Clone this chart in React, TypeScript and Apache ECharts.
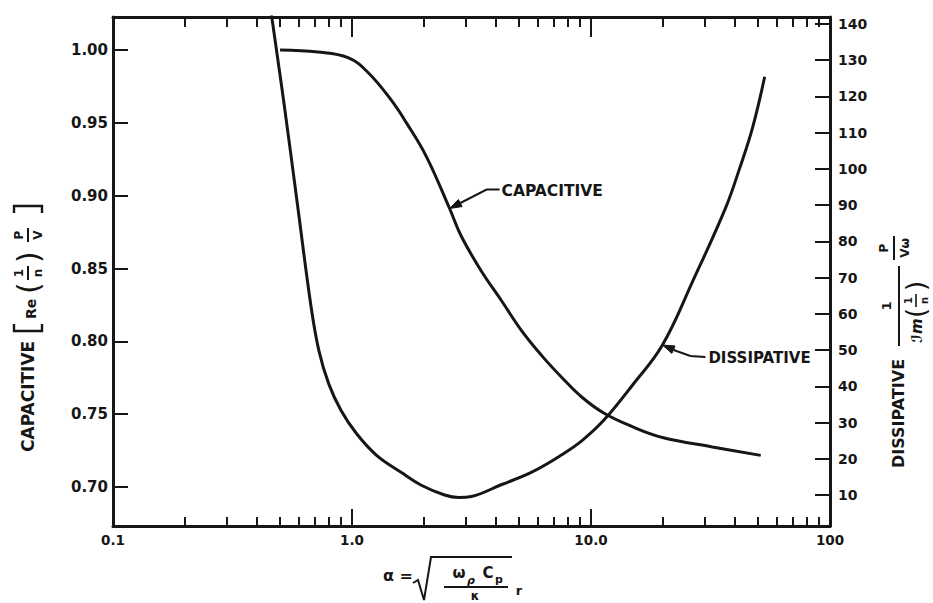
import React, { useEffect, useRef } from "react";
import * as echarts from "echarts";

// ---------- data ----------
const capAlpha = [0.5, 0.72, 0.962, 1.167, 1.46, 1.69, 2.05, 2.56, 2.87, 3.48, 4.23, 5.13, 6.22, 7.55, 9.17, 11.3, 14.9, 19.9, 32.2, 51.3];
const capValue = [1.0, 0.9986, 0.9948, 0.9846, 0.9656, 0.95, 0.9267, 0.8912, 0.872, 0.8481, 0.8277, 0.8072, 0.7902, 0.7752, 0.7616, 0.7508, 0.7414, 0.734, 0.7275, 0.7217];

const dissAlpha = [0.458, 0.521, 0.592, 0.673, 0.726, 0.8, 0.899, 1.04, 1.26, 1.61, 1.95, 2.44, 2.8, 3.16, 4.23, 5.65, 7.55, 9.17, 11.3, 14.9, 19.9, 26.6, 36.5, 41.9, 47.4, 53.3];
const dissValue = [143.5, 117.4, 89.9, 62.3, 50.0, 40.6, 33.4, 27.1, 21.1, 16.2, 12.7, 10.0, 9.3, 9.6, 12.9, 16.3, 21.1, 25.0, 30.6, 40.3, 51.4, 68.9, 89.1, 100.2, 111.3, 125.4];

const xMinorTicks = [0.2, 0.3, 0.4, 0.5, 0.6, 0.7, 0.8, 0.9, 2, 3, 4, 5, 6, 7, 8, 9, 20, 30, 40, 50, 60, 70, 80, 90];
const xMajorTicks = [1, 10];
const xLabelValues = [0.1, 1, 10, 100];
const xLabelTexts = ["0.1", "1.0", "10.0", "100"];
const leftTicks = [0.7, 0.75, 0.8, 0.85, 0.9, 0.95, 1.0];
const rightTicks = [10, 20, 30, 40, 50, 60, 70, 80, 90, 100, 110, 120, 130, 140];

const capArrowIndex = 7;
const dissArrowIndex = 20;

const FONT = "DejaVu Sans";
const INK = "#161616";

function txt(text: string, x: number, y: number, size: number, align = "center", extra: any = {}) {
  return {
    type: "text",
    style: {
      text, x, y, fontSize: size, fontFamily: FONT, fontWeight: "bold", fill: INK,
      align, textAlign: align, verticalAlign: "middle", textVerticalAlign: "middle", ...extra,
    },
  };
}
function seg(x1: number, y1: number, x2: number, y2: number, w = 2) {
  return { type: "line", shape: { x1, y1, x2, y2 }, style: { stroke: INK, lineWidth: w } };
}
function poly(points: number[][], w = 2) {
  return { type: "polyline", shape: { points }, style: { stroke: INK, lineWidth: w, fill: null } };
}
function arrowHead(tip: number[], from: number[], len = 11, half = 4) {
  const dx = tip[0] - from[0], dy = tip[1] - from[1];
  const d = Math.hypot(dx, dy) || 1;
  const ux = dx / d, uy = dy / d;
  const bx = tip[0] - ux * len, by = tip[1] - uy * len;
  return {
    type: "polygon",
    shape: { points: [[tip[0], tip[1]], [bx - uy * half, by + ux * half], [bx + uy * half, by - ux * half]] },
    style: { fill: INK, stroke: INK, lineWidth: 1 },
  };
}

const xBase = {
  type: "log", logBase: 10, min: 0.1, max: 100, gridIndex: 0,
  splitLine: { show: false }, minorTick: { show: false }, minorSplitLine: { show: false },
};
const tickStyle = { color: INK, width: 2 };
const labelFont = { color: INK, fontFamily: FONT, fontWeight: "bold" };

function buildOption(): any {
  return {
    animation: false,
    backgroundColor: "#ffffff",
    grid: { left: 113, right: 103, top: 17, bottom: 77, containLabel: false },
    xAxis: [
      {
        ...xBase, position: "bottom",
        axisLine: { show: true, lineStyle: { color: INK, width: 3 } },
        axisTick: { show: true, inside: true, length: 9, customValues: xMinorTicks, lineStyle: tickStyle },
        axisLabel: {
          show: true, customValues: xLabelValues, margin: 7, fontSize: 13.5, ...labelFont,
          formatter: (v: number) => {
            const i = xLabelValues.findIndex((u) => Math.abs(u - v) / u < 1e-6);
            return i >= 0 ? xLabelTexts[i] : "";
          },
        },
      },
      {
        ...xBase, position: "bottom",
        axisLine: { show: false },
        axisTick: { show: true, inside: true, length: 17, customValues: xMajorTicks, lineStyle: tickStyle },
        axisLabel: { show: false },
      },
      {
        ...xBase, position: "top",
        axisLine: { show: true, lineStyle: { color: INK, width: 3 } },
        axisTick: { show: true, inside: true, length: 10, customValues: xMinorTicks, lineStyle: tickStyle },
        axisLabel: { show: false },
      },
      {
        ...xBase, position: "top",
        axisLine: { show: false },
        axisTick: { show: true, inside: true, length: 20, customValues: xMajorTicks, lineStyle: tickStyle },
        axisLabel: { show: false },
      },
    ],
    yAxis: [
      {
        type: "value", position: "left", min: 0.6732, max: 1.0227,
        splitLine: { show: false },
        axisLine: { show: true, lineStyle: { color: INK, width: 3 } },
        axisTick: { show: true, inside: true, length: 15, customValues: leftTicks, lineStyle: tickStyle },
        axisLabel: {
          customValues: leftTicks, margin: 5, fontSize: 15, ...labelFont,
          formatter: (v: number) => v.toFixed(2),
        },
      },
      {
        type: "value", position: "right", min: 1.45, max: 141.9,
        splitLine: { show: false },
        axisLine: { show: true, lineStyle: { color: INK, width: 3 } },
        axisTick: { show: true, inside: true, length: 15, customValues: rightTicks, lineStyle: tickStyle },
        axisLabel: {
          customValues: rightTicks, margin: 8, fontSize: 14, ...labelFont,
          formatter: (v: number) => String(Math.round(v)),
        },
      },
    ],
    series: [
      {
        name: "CAPACITIVE", type: "line", xAxisIndex: 0, yAxisIndex: 0,
        data: capAlpha.map((a, i) => [a, capValue[i]]),
        showSymbol: false, smooth: 0.4, clip: true,
        lineStyle: { color: INK, width: 3 },
      },
      {
        name: "DISSIPATIVE", type: "line", xAxisIndex: 0, yAxisIndex: 1,
        data: dissAlpha.map((a, i) => [a, dissValue[i]]),
        showSymbol: false, smooth: 0.4, clip: true,
        lineStyle: { color: INK, width: 3 },
      },
    ],
  };
}

function staticGraphics(): any[] {
  // left axis title, rotated to read bottom-to-top
  const leftTitle = {
    type: "group", x: 28, y: 452, rotation: Math.PI / 2,
    children: [
      txt("CAPACITIVE", 0, 0, 17, "left"),
      poly([[128, -14], [121, -14], [121, 14], [128, 14]], 2.4),
      txt("Re", 133, 3, 14, "left"),
      txt("(", 158, 0, 30, "left", { fontWeight: "normal" }),
      seg(172, 0, 186, 0, 2),
      txt("1", 179, -9, 12),
      txt("n", 179, 10, 12),
      txt(")", 189, 0, 30, "left", { fontWeight: "normal" }),
      seg(210, 0, 224, 0, 2),
      txt("P", 217, -9, 12),
      txt("V", 217, 10, 12),
      poly([[239, -14], [246, -14], [246, 14], [239, 14]], 2.4),
    ],
  };
  // right axis title
  const rightTitle = {
    type: "group", x: 898, y: 470, rotation: Math.PI / 2,
    children: [
      txt("DISSIPATIVE", 2, 0, 16, "left"),
      seg(124, 1, 204, 1, 2),
      txt("1", 164, -12, 13),
      txt("ℐm", 127, 19, 15, "left", { fontStyle: "italic" }),
      txt("(", 152, 18, 26, "left", { fontWeight: "normal" }),
      seg(163, 18, 176, 18, 1.6),
      txt("1", 169.5, 10, 10),
      txt("n", 169.5, 26, 10),
      txt(")", 179, 18, 26, "left", { fontWeight: "normal" }),
      seg(210, -4, 234, -4, 2),
      txt("P", 222, -14, 12),
      txt("Vω", 222, 7, 12),
    ],
  };
  // x axis title
  const xTitle = [
    txt("α =", 398, 575, 16),
    poly([[413, 583], [418, 580], [424, 600], [431, 557], [512, 557]], 2),
    txt("ω", 459, 573, 15),
    txt("ρ", 471, 580, 11, "center", { fontStyle: "italic" }),
    txt("C", 488, 573, 15),
    txt("p", 499, 579, 11),
    seg(444, 587, 508, 587, 2),
    txt("κ", 475, 596, 12),
    txt("r", 519, 590, 13),
  ];
  return [leftTitle, rightTitle, ...xTitle];
}

export default function App() {
  const ref = useRef<HTMLDivElement>(null);
  useEffect(() => {
    const chart = echarts.init(ref.current!, null, { renderer: "svg" });
    chart.setOption(buildOption());
    const tc = chart.convertToPixel({ seriesIndex: 0 }, [capAlpha[capArrowIndex], capValue[capArrowIndex]]) as number[];
    const td = chart.convertToPixel({ seriesIndex: 1 }, [dissAlpha[dissArrowIndex], dissValue[dissArrowIndex]]) as number[];
    const cBend = [tc[0] + 37, tc[1] - 19];
    const dBend = [td[0] + 14, td[1] + 6];
    const leaders = [
      poly([[tc[0] + 4, tc[1] - 2], cBend, [tc[0] + 50, tc[1] - 19]], 2),
      arrowHead(tc, cBend, 12, 4),
      txt("CAPACITIVE", tc[0] + 52, tc[1] - 18, 15.5, "left"),
      poly([[td[0] + 4, td[1] + 2], dBend, [td[0] + 28, td[1] + 11], [td[0] + 43, td[1] + 12]], 2),
      arrowHead(td, dBend, 12, 4),
      txt("DISSIPATIVE", td[0] + 46, td[1] + 13, 15, "left"),
    ];
    chart.setOption({ graphic: { elements: [...staticGraphics(), ...leaders] } });
    return () => chart.dispose();
  }, []);
  return (
    <div
      ref={ref}
      style={{ position: "fixed", left: 0, top: 0, width: 933, height: 603, background: "#ffffff" }}
    />
  );
}
